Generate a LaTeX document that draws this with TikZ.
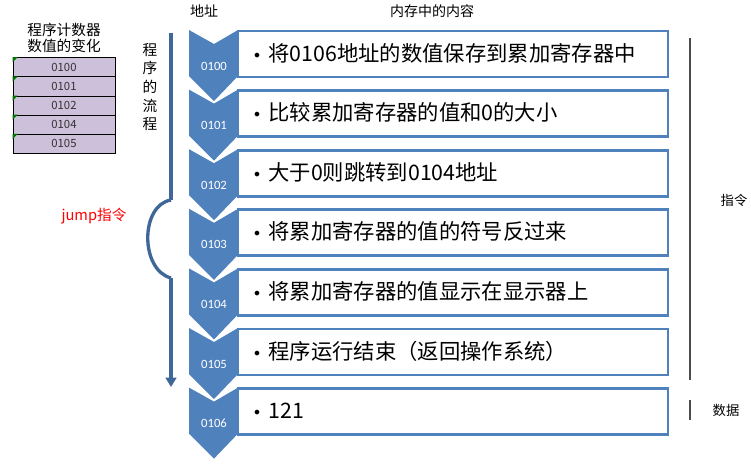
\documentclass[tikz,border=0pt]{standalone}
\usepackage{fontspec}
\setmainfont{Carlito}
\newfontfamily\cjk{Noto Sans CJK SC}
\newfontfamily\bul{DejaVu Sans}
\usetikzlibrary{arrows.meta}
\definecolor{cblue}{HTML}{4F81BD}
\definecolor{cdark}{HTML}{3F6797}
\definecolor{cpurp}{HTML}{CCC0DA}
\begin{document}
\begin{tikzpicture}[x=0.75pt,y=-0.75pt,
  rowbox/.style={draw=cblue,line width=2.2pt,fill=white,minimum width=0pt},
  itemtxt/.style={anchor=west,font=\cjk\fontsize{16}{18}\selectfont,inner sep=0},
  addr/.style={text=white,font=\fontsize{9.5}{11}\selectfont,inner sep=0},
  pc/.style={draw=black,fill=cpurp,minimum width=76.5pt,minimum height=14.4pt,inner sep=0,font=\cjk\fontsize{8.5}{10}\selectfont,text=black!80},
  lbl/.style={font=\cjk\fontsize{10}{12}\selectfont,inner sep=0}]
\useasboundingbox (0,0) rectangle (751,469);
\fill[white] (0,0) rectangle (751,469);
% rows
\foreach \i/\a/\t in {0/0100/{将0106地址的数值保存到累加寄存器中},1/0101/{比较累加寄存器的值和0的大小},2/0102/{大于0则跳转到0104地址},3/0103/{将累加寄存器的值的符号反过来},4/0104/{将累加寄存器的值显示在显示器上},5/0105/{程序运行结束（返回操作系统）},6/0106/{121}}{
  \pgfmathsetmacro{\yt}{30+59.6*\i}
  \draw[rowbox] (238,\yt+1) rectangle (668,\yt+47);
  \fill[cblue] (189,\yt) -- (214,\yt+14) -- (238,\yt) -- (238,\yt+46) -- (214,\yt+71) -- (189,\yt+46) -- cycle;
  \node[addr] (a\i) at (214,\yt+36) {\a};
  \node[itemtxt] (t\i) at (252,\yt+23) {{\bul\fontsize{12}{14}\selectfont •}\hspace{5pt}\t};
}
% header
\node[lbl,font=\cjk\fontsize{10.5}{12}\selectfont] (h1) at (204,11) {地址};
\node[lbl,font=\cjk\fontsize{10.5}{12}\selectfont] (h2) at (432,11) {内存中的内容};
% PC table
\node[lbl,align=center,font=\cjk\fontsize{11}{12.5}\selectfont] (pct) at (64,38) {程序计数器\\数值的变化};
\foreach \i/\v in {0/0100,1/0101,2/0102,3/0104,4/0105}{
  \node[pc] (p\i) at (64,67+19.2*\i) {\v};
  \fill[green!45!black] (p\i.north west) -- ++(5,0) -- ++(-5,5) -- cycle;
}
% flow arrow
\node[lbl,align=center,font=\cjk\fontsize{11}{14}\selectfont] (flow) at (150,87) {程\\序\\的\\流\\程};
\coordinate (f0) at (171,33);
\coordinate (f1) at (171,200);
\coordinate (f2) at (171,278);
\coordinate (f3) at (171,387);
\draw[cdark,line width=3pt] (f0) -- (f1);
\draw[cdark,line width=3pt,-{Triangle[length=7pt,width=8pt]}] (f2) -- (f3);
\draw[cdark,line width=2.5pt] (f1) .. controls (140,205) and (140,270) .. (f2);
\node[lbl,text=red,font=\cjk\fontsize{11}{12}\selectfont] (jmp) at (94,216) {jump指令};
% right brackets
\coordinate (r0) at (690,38);
\coordinate (r1) at (690,380);
\coordinate (r2) at (690,400);
\coordinate (r3) at (690,420);
\draw[black!70,line width=0.8pt] (r0) -- (r1);
\draw[black!70,line width=0.8pt] (r2) -- (r3);
\node[lbl] (ins) at (734,200) {指令};
\node[lbl] (dat) at (726,410) {数据};
\end{tikzpicture}
\end{document}
